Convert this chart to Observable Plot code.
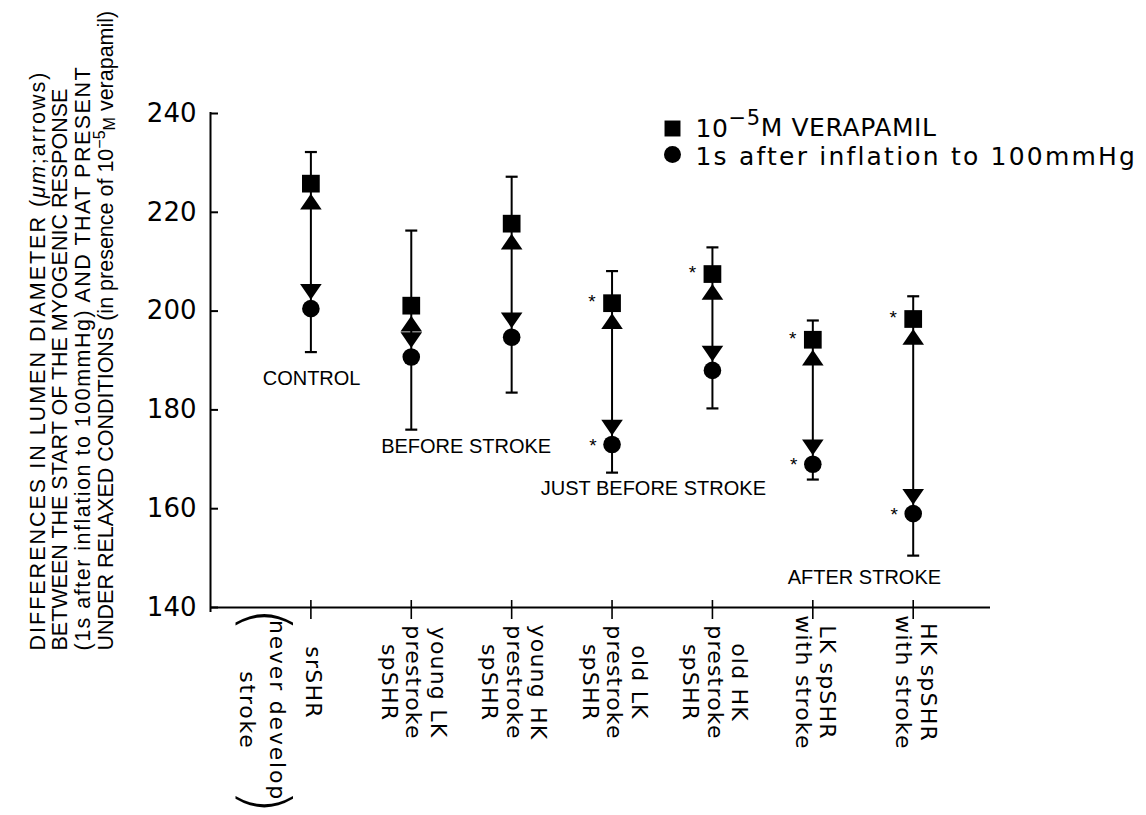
<!DOCTYPE html>
<html>
<head>
<meta charset="utf-8">
<script src="https://cdn.jsdelivr.net/npm/d3@7"></script>
<script src="https://cdn.jsdelivr.net/npm/@observablehq/plot@0.6"></script>
<style>
  html, body { margin: 0; padding: 0; background: #fff; }
  #chart { width: 1146px; height: 815px; }
</style>
</head>
<body>
<div id="chart"></div>
<script>
// ---- data ----
const groups = [
  "srSHR",
  "young LK\nprestroke\nspSHR",
  "young HK\nprestroke\nspSHR",
  "old LK\nprestroke\nspSHR",
  "old HK\nprestroke\nspSHR",
  "LK spSHR\nwith stroke",
  "HK spSHR\nwith stroke"
];
const xPos = [1, 2, 3, 4, 5, 6, 7];
const verapamil = [225.8, 201.1, 217.7, 201.6, 207.5, 194.2, 198.4];   // squares
const inflation = [200.5, 190.7, 194.7, 173.0, 188.0, 169.0, 159.0];   // circles
const errTop    = [232.2, 216.3, 227.2, 208.1, 212.9, 198.1, 203.0];
const errBottom = [191.7, 176.0, 183.5, 167.3, 180.3, 165.9, 150.5];
const starVer   = [false, false, false, true, true, true, true];
const starInf   = [false, false, false, true, false, true, true];
const yTicks = [140, 160, 180, 200, 220, 240];
const annLabels = ["CONTROL", "BEFORE STROKE", "JUST BEFORE STROKE", "AFTER STROKE"];
const annX = [0.52, 1.70, 3.29, 5.75];
const annY = [186.4, 172.6, 164.1, 146.1];
const srNote = "never develop\nstroke";
const yLabelLines = [
  "DIFFERENCES IN LUMEN DIAMETER (μm;arrows)",
  "BETWEEN THE START OF THE MYOGENIC RESPONSE",
  "(1s after inflation to 100mmHg) AND THAT PRESENT",
  "UNDER RELAXED CONDITIONS (in presence of 10−5M verapamil)"
];
const legendVer = "10−5M VERAPAMIL";
const legendInf = "1s after inflation to 100mmHg";

const rows = groups.map((g, i) => ({
  label: g, x: xPos[i], ver: verapamil[i], inf: inflation[i],
  hi: errTop[i], lo: errBottom[i], sv: starVer[i], si: starInf[i]
}));
const ann = annLabels.map((t, i) => ({t, x: annX[i], y: annY[i]}));

// custom symbols
const capSym = {draw(ctx, size) { const r = Math.sqrt(size / Math.PI); ctx.moveTo(-r, 0); ctx.lineTo(r, 0); }};
const upSym = {draw(ctx, size) { const r = Math.sqrt(size / Math.PI); ctx.moveTo(0, 0); ctx.lineTo(r * 1.2, r * 1.75); ctx.lineTo(-r * 1.2, r * 1.75); ctx.closePath(); }};
const downSym = {draw(ctx, size) { const r = Math.sqrt(size / Math.PI); ctx.moveTo(0, 0); ctx.lineTo(r * 1.2, -r * 1.75); ctx.lineTo(-r * 1.2, -r * 1.75); ctx.closePath(); }};

const W = 1146, H = 815, ML = 210, MR = 156, MT = 113, MB = 208;
const plotW = W - ML - MR, plotH = H - MT - MB;
const wide = "DejaVu Sans";
const plain = "Liberation Sans";

const plot = Plot.plot({
  width: W, height: H,
  marginLeft: ML, marginRight: MR, marginTop: MT, marginBottom: MB,
  x: {domain: [0, 7.77], axis: null},
  y: {domain: [140, 240], axis: null},
  style: {background: "white", fontFamily: plain, color: "black", overflow: "visible"},
  marks: [
    // axes lines
    Plot.ruleX([0], {stroke: "black", strokeWidth: 2, insetBottom: -5, insetTop: -1}),
    Plot.ruleY([140], {stroke: "black", strokeWidth: 2}),
    Plot.tickY(yTicks, {y: d => d, stroke: "black", strokeWidth: 2, insetRight: plotW - 8}),
    Plot.tickX(xPos, {x: d => d, stroke: "black", strokeWidth: 1.6, insetTop: plotH - 7, insetBottom: -12}),
    Plot.text(yTicks, {y: d => d, text: d => String(d), frameAnchor: "left", dx: -14, textAnchor: "end",
      fontSize: 26, fontFamily: wide, fill: "black"}),
    // x labels (rotated, centred along the label column)
    Plot.text(rows, {x: "x", text: "label", frameAnchor: "bottom", dx: 3, dy: 75, rotate: 90,
      textAnchor: "middle", lineAnchor: "middle", fontSize: 22, lineHeight: 1.12, fontFamily: wide,
      fill: "black"}),
    Plot.text([rows[0]], {x: "x", text: () => srNote, frameAnchor: "bottom", dx: -46, dy: 103, rotate: 90,
      textAnchor: "middle", lineAnchor: "middle", fontSize: 22, lineHeight: 1.4, fontFamily: wide,
      fill: "black"}),
    Plot.text([rows[0]], {x: "x", text: () => "(", frameAnchor: "bottom", dx: -46, dy: 12, rotate: 90,
      textAnchor: "middle", lineAnchor: "middle", fontSize: 64, fontFamily: wide, fontWeight: 200, fill: "black"}),
    Plot.text([rows[0]], {x: "x", text: () => ")", frameAnchor: "bottom", dx: -46, dy: 194, rotate: 90,
      textAnchor: "middle", lineAnchor: "middle", fontSize: 64, fontFamily: wide, fontWeight: 200, fill: "black"}),
    // y label
    Plot.text([yLabelLines.join("\n")], {text: d => d, frameAnchor: "bottom-left", dx: 28 - ML, dy: 43, rotate: -90,
      textAnchor: "start", lineAnchor: "top", fontSize: 21.5, lineHeight: 1.06, fontFamily: plain, fill: "black"}),
    // error bars + arrow shaft
    Plot.ruleX(rows, {x: "x", y1: "lo", y2: "hi", stroke: "black", strokeWidth: 2}),
    Plot.dot(rows, {x: "x", y: "hi", symbol: capSym, r: 6, stroke: "black", strokeWidth: 2.2, fill: "none"}),
    Plot.dot(rows, {x: "x", y: "lo", symbol: capSym, r: 6, stroke: "black", strokeWidth: 2.2, fill: "none"}),
    // arrow heads
    Plot.dot(rows, {x: "x", y: "ver", symbol: upSym, r: 9, dy: 10, fill: "black", stroke: "none"}),
    Plot.dot(rows, {x: "x", y: "inf", symbol: downSym, r: 9, dy: -9, fill: "black", stroke: "none"}),
    // markers
    Plot.dot(rows, {x: "x", y: "ver", symbol: "square", r: 10, fill: "black", stroke: "none"}),
    Plot.dot(rows, {x: "x", y: "inf", symbol: "circle", r: 8.8, fill: "black", stroke: "none"}),
    // significance asterisks
    Plot.text(rows.filter(d => d.sv), {x: "x", y: "ver", text: () => "*", dx: -20, dy: -1, fontSize: 19, fontFamily: plain, fill: "black"}),
    Plot.text(rows.filter(d => d.si), {x: "x", y: "inf", text: () => "*", dx: -19, dy: 1, fontSize: 19, fontFamily: plain, fill: "black"}),
    // annotations
    Plot.text(ann, {x: "x", y: "y", text: "t", textAnchor: "start", fontSize: 20, fontFamily: plain, fill: "black"}),
    // legend
    Plot.dot([0], {frameAnchor: "top-left", dx: 462, dy: 15, symbol: "square", r: 9, fill: "black"}),
    Plot.dot([0], {frameAnchor: "top-left", dx: 462, dy: 41, symbol: "circle", r: 8.5, fill: "black"}),
    Plot.text([legendVer], {text: d => d, frameAnchor: "top-left", dx: 485, dy: 15, textAnchor: "start",
      lineAnchor: "middle", fontSize: 25, fontFamily: wide, fill: "black"}),
    Plot.text([legendInf], {text: d => d, frameAnchor: "top-left", dx: 485, dy: 43, textAnchor: "start",
      lineAnchor: "middle", fontSize: 25, fontFamily: wide, fill: "black"})
  ]
});

// typographic touches (letter spacing, superscripts, italic μm)
const svg = d3.select(plot);
const labelSet = new Set(groups.map(g => g.replace(/\n/g, "")));
svg.selectAll("text").filter(function() { return labelSet.has(this.textContent); })
  .style("letter-spacing", "1.2px");
svg.selectAll("text").filter(function() { return this.textContent === srNote.replace(/\n/g, ""); })
  .style("letter-spacing", "1.8px");
svg.selectAll("text").filter(function() { return this.textContent === legendInf; })
  .style("letter-spacing", "2.2px");
svg.selectAll("text").filter(function() { return this.textContent === legendVer; })
  .style("letter-spacing", "0.6px")
  .each(function() {
    const t = d3.select(this);
    t.text(null);
    t.append("tspan").text("10");
    t.append("tspan").attr("dy", "-0.55em").attr("font-size", "21").text("−5");
    t.append("tspan").attr("dy", "0.46em").text("M VERAPAMIL");
  });
svg.selectAll("tspan").filter(function() { return this.textContent === yLabelLines[0]; })
  .each(function() {
    const t = d3.select(this);
    t.style("letter-spacing", "2px");
    t.text(null);
    t.append("tspan").text("DIFFERENCES IN LUMEN DIAMETER (");
    t.append("tspan").attr("font-style", "italic").text("μm");
    t.append("tspan").text(";arrows)");
  });
svg.selectAll("tspan").filter(function() { return this.textContent === yLabelLines[2]; })
  .style("letter-spacing", "1.5px");
svg.selectAll("tspan").filter(function() { return this.textContent === yLabelLines[3]; })
  .each(function() {
    const t = d3.select(this);
    t.text(null);
    t.append("tspan").text("UNDER RELAXED CONDITIONS (in presence of 10");
    t.append("tspan").attr("dy", "-0.5em").attr("font-size", "16").text("−5");
    t.append("tspan").attr("dy", "0.6em").attr("font-size", "16").text("M");
    t.append("tspan").attr("dy", "-0.1em").text(" verapamil)");
  });

document.getElementById("chart").appendChild(plot);
</script>
</body>
</html>
